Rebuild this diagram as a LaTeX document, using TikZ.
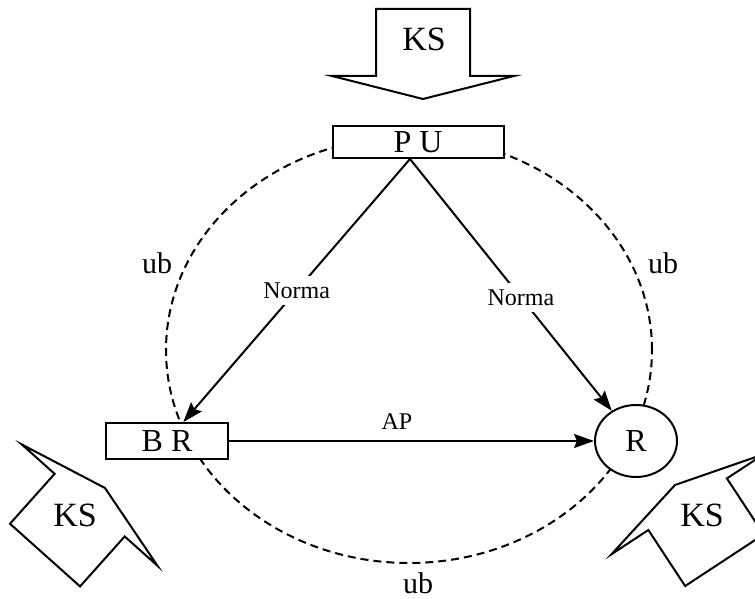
\documentclass[tikz,border=0pt]{standalone}
\usepackage{fontspec}
\setmainfont{Liberation Serif}
\usetikzlibrary{arrows.meta,shapes.geometric}

\begin{document}
\begin{tikzpicture}[
        x=0.5pt, y=0.5pt,
        line width=1pt,
        >={Stealth[length=10pt,width=7pt,inset=1.5pt]},
        % boxes for the three parties
        unit/.style={draw, fill=white, inner sep=0pt, font=\fontsize{16}{18}\selectfont},
        ring/.style={dashed, dash pattern=on 4pt off 2.5pt},
        ublabel/.style={font=\fontsize{15}{17}\selectfont},
        flow/.style={font=\fontsize{12}{14}\selectfont},
        kstext/.style={font=\fontsize{17}{19}\selectfont},
        % broad block arrow, tip at the origin, pointing down
        ksarrow/.pic={
            \draw (-47,90) -- (-47,23) -- (-91,23) -- (0,0)
                -- (91,23) -- (47,23) -- (47,90) -- cycle;
        },
    ]
    \clip (0,0) rectangle (755,599);

    % dashed ring
    \draw[ring] (409,249) ellipse [x radius=243, y radius=213];

    \node[unit, minimum width=85.5pt, minimum height=16pt] (PU) at (418,457) {P U};
    \node[unit, minimum width=61pt, minimum height=18pt] (BR) at (167,158) {B R};
    \node[unit, ellipse, minimum width=41pt, minimum height=36pt] (R) at (636,158) {R};
    \coordinate (apex) at ([xshift=-4pt]PU.south);

    \draw[->] (apex) -- (BR) node[flow, midway, fill=white] (normal) {Norma};
    \draw[->] (apex) -- (R) node[flow, pos=0.55, fill=white] (normar) {Norma};
    \draw[->] (BR) -- (R) node[flow, pos=0.46, above=2pt] (ap) {AP};

    \node[ublabel] (ubl) at (157,336) {ub};
    \node[ublabel] (ubr) at (663,336) {ub};
    \node[ublabel] (ubb) at (418,16) {ub};

    % KS arrows
    \pic at (423,500) {ksarrow};
    \node[kstext] (kstop) at (424,560) {KS};
    \pic[rotate=138.2] at (105,111) {ksarrow};
    \node[kstext] (ksleft) at (75,84) {KS};
    \pic[rotate=213.3] at (675,114) {ksarrow};
    \node[kstext] (ksright) at (702,84) {KS};
\end{tikzpicture}
\end{document}
